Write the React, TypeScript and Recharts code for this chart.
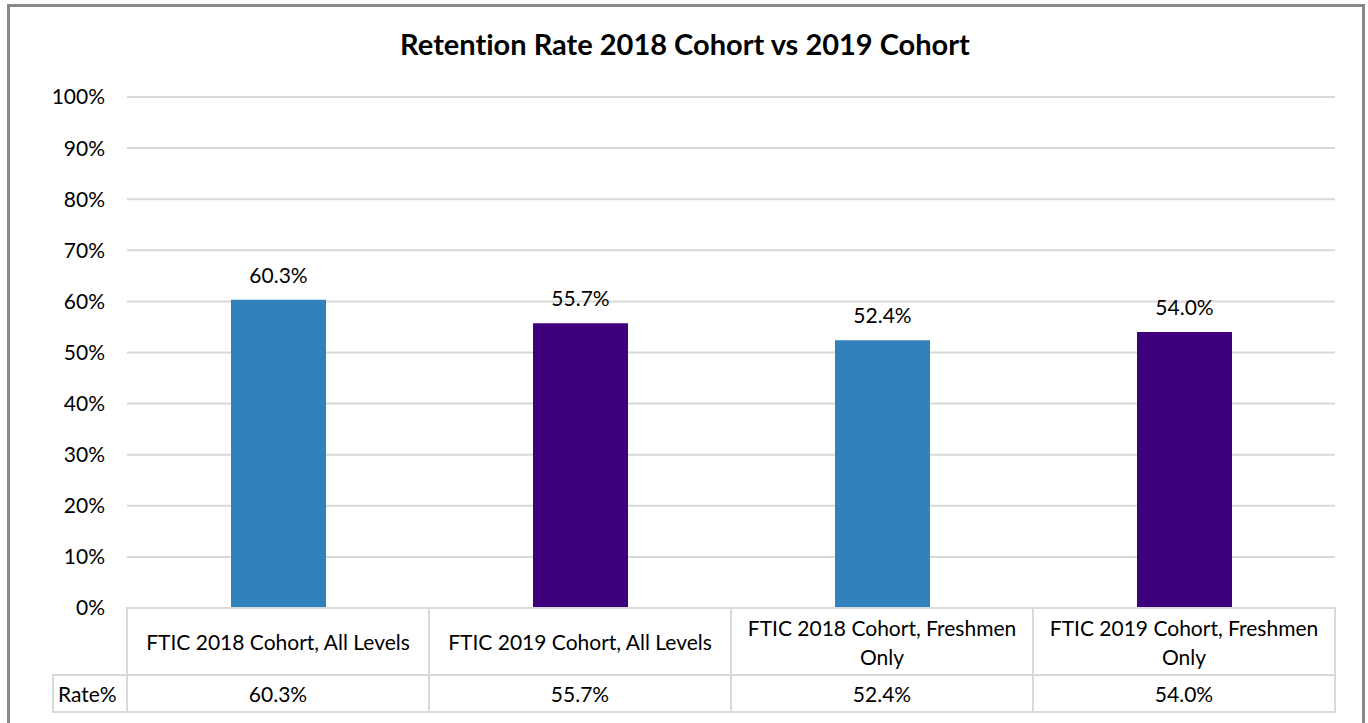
import React from "react";
import { BarChart, Bar, XAxis, YAxis, CartesianGrid, Cell, LabelList } from "recharts";

const title = "Retention Rate 2018 Cohort vs 2019 Cohort";
const categories = [
  "FTIC 2018 Cohort, All Levels",
  "FTIC 2019 Cohort, All Levels",
  "FTIC 2018 Cohort, Freshmen Only",
  "FTIC 2019 Cohort, Freshmen Only",
];
const rates = [0.603, 0.557, 0.524, 0.54];
const barColors = ["#3181BD", "#3F007D", "#3181BD", "#3F007D"];
const seriesName = "Rate%";
const yTicks = [0, 0.1, 0.2, 0.3, 0.4, 0.5, 0.6, 0.7, 0.8, 0.9, 1.0];

const data = categories.map((c, i) => ({ name: c, value: rates[i] }));

const W = 1368;
const H = 723;
const M = { top: 97, right: 33, left: 67, bottom: 0 };
const Y_W = 60;
const PLOT_W = W - M.left - Y_W - M.right;
const CELL_W = PLOT_W / categories.length;
const HEAD_H = 67;
const ROW_H = 37;
const LEG_W = 74;
const FONT = "Lato, 'Open Sans', sans-serif";
const GRID = "#d9d9d9";
const TXT = "#000";
const FS = 21;
const NOLIG: React.CSSProperties = { fontVariantLigatures: "none" };

const pct = (v: number) => `${Math.round(v * 100)}%`;
const pct1 = (v: number) => `${(v * 100).toFixed(1)}%`;

function wrap(text: string, maxChars: number): string[] {
  const words = text.split(" ");
  const lines: string[] = [];
  let cur = "";
  for (const w of words) {
    const next = cur ? cur + " " + w : w;
    if (next.length > maxChars && cur) {
      lines.push(cur);
      cur = w;
    } else cur = next;
  }
  if (cur) lines.push(cur);
  return lines;
}

const TableTick = (props: any) => {
  const { x, y, payload, index } = props;
  const left = x - CELL_W / 2;
  const lines = wrap(String(payload.value), 28);
  const lh = 29;
  const startY = y + HEAD_H / 2 - ((lines.length - 1) * lh) / 2;
  return (
    <g>
      <rect x={left} y={y} width={CELL_W} height={HEAD_H} fill="none" stroke={GRID} strokeWidth={2} />
      <rect x={left} y={y + HEAD_H} width={CELL_W} height={ROW_H} fill="none" stroke={GRID} strokeWidth={2} />
      {lines.map((l, i) => (
        <text key={i} x={x} y={startY + i * lh} textAnchor="middle" dominantBaseline="central" fontSize={FS} fontFamily={FONT} fill={TXT} style={NOLIG}>
          {l}
        </text>
      ))}
      <text x={x} y={y + HEAD_H + ROW_H / 2} textAnchor="middle" dominantBaseline="central" fontSize={FS} fontFamily={FONT} fill={TXT}>
        {pct1(rates[index])}
      </text>
      {index === 0 && (
        <g>
          <rect x={left - LEG_W} y={y + HEAD_H} width={LEG_W} height={ROW_H} fill="none" stroke={GRID} strokeWidth={2} />
          <text x={left - LEG_W + 5} y={y + HEAD_H + ROW_H / 2} textAnchor="start" dominantBaseline="central" fontSize={FS} fontFamily={FONT} fill={TXT}>
            {seriesName}
          </text>
        </g>
      )}
    </g>
  );
};

export default function App() {
  return (
    <div style={{ position: "absolute", left: 0, top: 0, width: W, height: H, overflow: "hidden", background: "#fff" }}>
      <div style={{ position: "absolute", left: 7, top: 4, width: 1352, height: 800, border: "3px solid #888" }} />
      <div style={{ position: "absolute", left: 0, top: 26, width: 1370, textAlign: "center", fontFamily: FONT, fontWeight: 700, fontSize: 29, lineHeight: "36px", color: "#000", fontVariantLigatures: "none" }}>
        {title}
      </div>
      <div style={{ position: "absolute", left: 0, top: 0 }}>
        <BarChart width={W} height={H} data={data} margin={M}>
          <CartesianGrid vertical={false} stroke={GRID} strokeWidth={2} />
          <XAxis dataKey="name" height={115} interval={0} axisLine={false} tickLine={false} tickSize={0} tickMargin={0} tick={<TableTick />} />
          <YAxis width={Y_W} domain={[0, 1]} ticks={yTicks} tickFormatter={pct} axisLine={false} tickLine={false} tickSize={0} tickMargin={22} tick={{ fontSize: FS, fontFamily: FONT, fill: TXT }} />
          <Bar dataKey="value" barSize={95} isAnimationActive={false}>
            {data.map((d, i) => (
              <Cell key={i} fill={barColors[i]} />
            ))}
            <LabelList dataKey="value" position="top" offset={17} formatter={(v: any) => pct1(Number(v))} style={{ fontSize: FS, fontFamily: FONT, fill: TXT }} />
          </Bar>
        </BarChart>
      </div>
    </div>
  );
}
